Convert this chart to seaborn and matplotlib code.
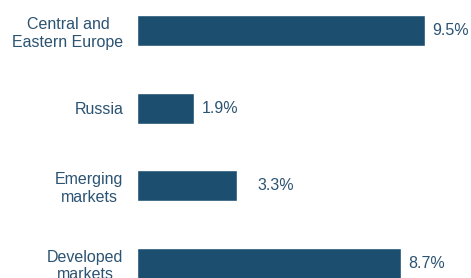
"""Horizontal bar chart: growth by region."""

import matplotlib.pyplot as plt
import pandas as pd
import seaborn as sns

# Chart data
categories = ["Central and\nEastern Europe", "Russia", "Emerging\nmarkets", "Developed\nmarkets"]
values = [9.5, 1.9, 3.3, 8.7]
value_labels = ["9.5%", "1.9%", "3.3%", "8.7%"]

BAR_COLOR = "#1c4f6f"
TEXT_COLOR = "#2b5372"


def main() -> None:
    sns.set_theme(style="white")
    plt.rcParams["font.family"] = ["Liberation Sans", "DejaVu Sans"]

    df = pd.DataFrame({"region": categories, "value": values})

    fig = plt.figure(figsize=(4.71, 2.78), dpi=100)
    ax = fig.add_axes([136.7 / 471, 0.0, 1 - 136.7 / 471, 1.0])

    sns.barplot(
        data=df, x="value", y="region", orient="h",
        color=BAR_COLOR, saturation=1, width=0.4, ax=ax,
    )

    ax.set_xlim(0, 11.0)
    ax.set_ylim(3.19, -0.397)

    # value labels; the emerging markets label sits a bit further out
    offsets = [5, 5, 14.5, 5]
    for i, (v, lab) in enumerate(zip(values, value_labels)):
        ax.annotate(
            lab, xy=(v, i), xytext=(offsets[i], 0), textcoords="offset points",
            ha="left", va="center", fontsize=11.5, color=TEXT_COLOR,
        )

    ax.set_xlabel("")
    ax.set_ylabel("")
    ax.set_xticks([])
    ax.tick_params(axis="y", length=0, pad=9.5, labelsize=11.5, labelcolor=TEXT_COLOR)
    for lbl in ax.get_yticklabels():
        lbl.set_horizontalalignment("right")
        lbl.set_multialignment("center")
    sns.despine(ax=ax, left=True, bottom=True)

    fig.savefig("out.png", dpi=100)


if __name__ == "__main__":
    main()
